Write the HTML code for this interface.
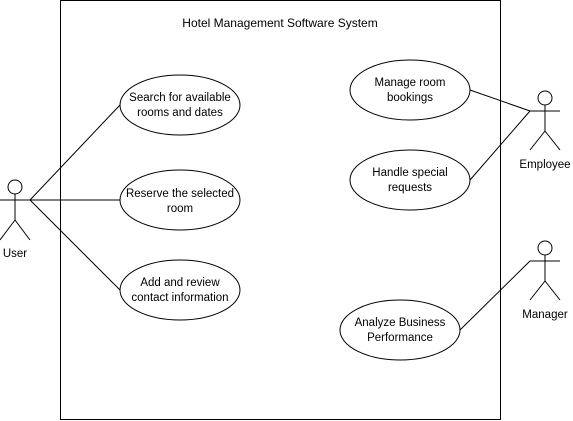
<!DOCTYPE html>
<html><head><style>body{margin:0;background:#fff}svg{display:block}</style></head><body>
<svg width="573" height="421" xmlns="http://www.w3.org/2000/svg" font-family="Liberation Sans, Arial, sans-serif" font-size="12" fill="none" stroke="#000" stroke-width="1">
<rect x="60.5" y="0.5" width="440" height="419" fill="#fff"/>
<text x="280" y="27" text-anchor="middle" fill="#000" stroke="none">Hotel Management Software System</text>
<line x1="30" y1="200" x2="120" y2="105"/>
<line x1="30" y1="200" x2="120" y2="200"/>
<line x1="30" y1="200" x2="120" y2="290"/>
<line x1="470" y1="90" x2="530" y2="111"/>
<line x1="470" y1="180" x2="530" y2="111"/>
<line x1="460" y1="330" x2="530" y2="261"/>
<g fill="#fff">
<ellipse cx="180" cy="105" rx="60" ry="30"/>
<ellipse cx="180" cy="200" rx="60" ry="30"/>
<ellipse cx="180" cy="290" rx="60" ry="30"/>
<ellipse cx="410" cy="90" rx="60" ry="30"/>
<ellipse cx="410" cy="180" rx="60" ry="30"/>
<ellipse cx="400" cy="330" rx="60" ry="30"/>
</g>
<g fill="#000" stroke="none" text-anchor="middle" font-size="11.5">
<text x="180" y="101">Search for available</text><text x="180" y="116">rooms and dates</text>
<text x="180" y="197">Reserve the selected</text><text x="180" y="212">room</text>
<text x="180" y="286">Add and review</text><text x="180" y="301">contact information</text>
<text x="410" y="86">Manage room</text><text x="410" y="101">bookings</text>
<text x="410" y="176">Handle special</text><text x="410" y="191">requests</text>
<text x="400" y="326">Analyze Business</text><text x="400" y="341">Performance</text>
<text x="15" y="257">User</text>
<text x="545" y="168">Employee</text>
<text x="545" y="318">Manager</text>
</g>
<g>
<circle cx="15" cy="187" r="7"/><line x1="15" y1="194" x2="15" y2="220"/><line x1="0" y1="200" x2="30" y2="200"/><line x1="15" y1="220" x2="0" y2="240"/><line x1="15" y1="220" x2="30" y2="240"/>
<circle cx="545" cy="98" r="7"/><line x1="545" y1="105" x2="545" y2="131"/><line x1="530" y1="111" x2="560" y2="111"/><line x1="545" y1="131" x2="530" y2="150"/><line x1="545" y1="131" x2="560" y2="150"/>
<circle cx="545" cy="248" r="7"/><line x1="545" y1="255" x2="545" y2="281"/><line x1="530" y1="261" x2="560" y2="261"/><line x1="545" y1="281" x2="530" y2="300"/><line x1="545" y1="281" x2="560" y2="300"/>
</g>
</svg>
</body></html>
